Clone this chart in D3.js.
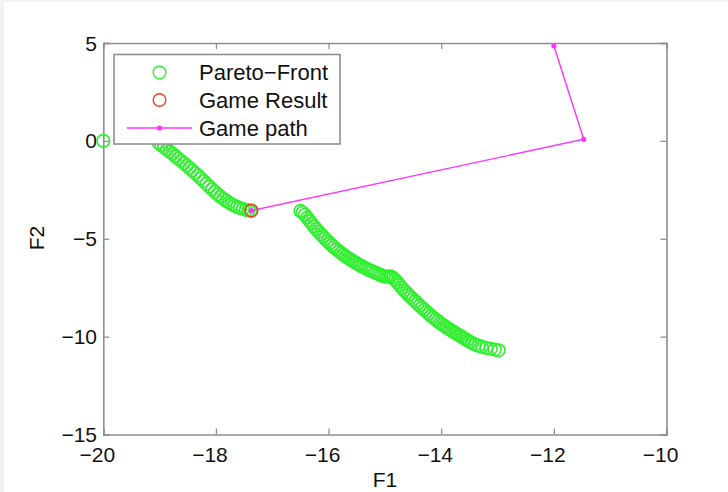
<!DOCTYPE html>
<html>
<head>
<meta charset="utf-8">
<script src="https://cdn.jsdelivr.net/npm/d3@7"></script>
<style>
  html, body { margin: 0; padding: 0; background: #f3f3f3; }
  svg { display: block; }
  text { font-family: "Liberation Sans", Arial, sans-serif; fill: #111; }
</style>
</head>
<body>
<svg id="chart" width="728" height="492"></svg>
<script>
// ---- data ----
const xTicks = [-20, -18, -16, -14, -12, -10];
const yTicks = [5, 0, -5, -10, -15];

const paretoF1 = [
  -20.00,
  -19.02, -18.97, -18.92, -18.87, -18.82, -18.77, -18.72, -18.67, -18.62, -18.57,
  -18.52, -18.47, -18.42, -18.37, -18.32, -18.27, -18.22, -18.17, -18.12, -18.07,
  -18.02, -17.97, -17.92, -17.87, -17.82, -17.77, -17.72, -17.67, -17.62, -17.57,
  -17.52, -17.47, -17.42, -17.38,
  -16.50, -16.46, -16.42, -16.38, -16.34, -16.30, -16.26, -16.22, -16.18, -16.14,
  -16.10, -16.06, -16.02, -15.98, -15.94, -15.90, -15.86, -15.82, -15.78, -15.74,
  -15.70, -15.66, -15.62, -15.58, -15.54, -15.50, -15.46, -15.42, -15.38, -15.34,
  -15.30, -15.26, -15.22, -15.18, -15.14, -15.10, -15.06, -15.02, -14.98, -14.94,
  -14.90, -14.86, -14.82, -14.78, -14.74, -14.70, -14.66, -14.62, -14.58, -14.54,
  -14.50, -14.46, -14.42, -14.38, -14.34, -14.30, -14.26, -14.22, -14.18, -14.14,
  -14.10, -14.06, -14.02, -13.98, -13.94, -13.90, -13.86, -13.82, -13.78, -13.74,
  -13.70, -13.66, -13.62, -13.58, -13.54, -13.50, -13.45, -13.40, -13.34, -13.28,
  -13.20, -13.12, -13.05, -12.98
];
const paretoF2 = [
  0.00,
  -0.10, -0.22, -0.33, -0.44, -0.55, -0.66, -0.78, -0.90, -1.02, -1.14,
  -1.26, -1.38, -1.51, -1.64, -1.77, -1.91, -2.05, -2.19, -2.33, -2.47,
  -2.60, -2.73, -2.85, -2.96, -3.06, -3.15, -3.24, -3.31, -3.38, -3.43,
  -3.48, -3.52, -3.55, -3.57,
  -3.58, -3.66, -3.78, -3.92, -4.08, -4.22, -4.36, -4.50, -4.63, -4.76,
  -4.88, -5.00, -5.12, -5.23, -5.34, -5.44, -5.54, -5.63, -5.72, -5.81,
  -5.89, -5.97, -6.05, -6.12, -6.19, -6.26, -6.33, -6.39, -6.45, -6.51,
  -6.57, -6.62, -6.67, -6.72, -6.77, -6.82, -6.87, -6.91, -6.94, -6.93,
  -6.92, -6.99, -7.10, -7.22, -7.36, -7.50, -7.63, -7.75, -7.87, -7.98,
  -8.09, -8.20, -8.31, -8.42, -8.53, -8.63, -8.73, -8.83, -8.93, -9.03,
  -9.12, -9.21, -9.30, -9.38, -9.46, -9.54, -9.61, -9.69, -9.76, -9.83,
  -9.90, -9.97, -10.04, -10.11, -10.18, -10.25, -10.33, -10.40, -10.46, -10.52,
  -10.57, -10.62, -10.66, -10.70
];

const gameResultF1 = [-17.37];
const gameResultF2 = [-3.56];

const pathF1 = [-12.00, -11.47, -17.37];
const pathF2 = [4.86, 0.08, -3.56];

const legendLabels = ["Pareto\u2212Front", "Game Result", "Game path"];
const xLabel = "F1";
const yLabel = "F2";

// ---- layout ----
const svg = d3.select("#chart");
svg.append("rect").attr("x", 4).attr("y", 2).attr("width", 724).attr("height", 490).attr("fill", "#fff");

const L = 103.3, R = 666.5, T = 43, B = 434.5;
const x = d3.scaleLinear().domain([-20, -10]).range([L, R]);
const y = d3.scaleLinear().domain([-15, 5]).range([B, T]);

const axisColor = "#8f8f8f";
const green = "#2ef02e", red = "#f0402a", magenta = "#ff33ff";

// axes box with inward ticks on all sides
const g = svg.append("g");
const tickLen = 6;
const bottomAxis = d3.axisBottom(x).tickValues(xTicks).tickSize(-tickLen).tickFormat("");
const topAxis = d3.axisTop(x).tickValues(xTicks).tickSize(-tickLen).tickFormat("");
const leftAxis = d3.axisLeft(y).tickValues(yTicks).tickSize(-tickLen).tickFormat("");
const rightAxis = d3.axisRight(y).tickValues(yTicks).tickSize(-tickLen).tickFormat("");
[[bottomAxis, `translate(0,${B})`], [topAxis, `translate(0,${T})`],
 [leftAxis, `translate(${L},0)`], [rightAxis, `translate(${R},0)`]].forEach(([ax, tr]) => {
  const a = g.append("g").attr("transform", tr).call(ax);
  a.select(".domain").attr("stroke", axisColor).attr("stroke-width", 1.6);
  a.selectAll(".tick line").attr("stroke", axisColor).attr("stroke-width", 1.3);
});

// tick labels
const fmt = v => (v < 0 ? "\u2212" + Math.abs(v) : String(v));
svg.append("g").selectAll("text").data(xTicks).join("text")
  .attr("x", d => x(d) - 6).attr("y", 462)
  .attr("text-anchor", "middle").attr("font-size", 21)
  .text(fmt);
svg.append("g").selectAll("text").data(yTicks).join("text")
  .attr("x", 97).attr("y", d => y(d) + 7.5)
  .attr("text-anchor", "end").attr("font-size", 21)
  .text(fmt);

// axis labels
svg.append("text").attr("x", 385).attr("y", 487).attr("text-anchor", "middle")
  .attr("font-size", 21).text(xLabel);
svg.append("text").attr("transform", "translate(44,238) rotate(-90)")
  .attr("text-anchor", "middle").attr("font-size", 21).text(yLabel);

// pareto front
const pareto = paretoF1.map((v, i) => [v, paretoF2[i]]);
svg.append("g").selectAll("circle").data(pareto).join("circle")
  .attr("cx", d => x(d[0])).attr("cy", d => y(d[1])).attr("r", 6.3)
  .attr("fill", "none").attr("stroke", green).attr("stroke-width", 1.6);

// game path
const path = pathF1.map((v, i) => [v, pathF2[i]]);
svg.append("path").datum(path)
  .attr("d", d3.line().x(d => x(d[0])).y(d => y(d[1])))
  .attr("fill", "none").attr("stroke", magenta).attr("stroke-width", 1.4);
svg.append("g").selectAll("circle").data(path).join("circle")
  .attr("cx", d => x(d[0])).attr("cy", d => y(d[1])).attr("r", 2.6).attr("fill", magenta);

// game result
svg.append("g").selectAll("circle").data(gameResultF1.map((v, i) => [v, gameResultF2[i]])).join("circle")
  .attr("cx", d => x(d[0])).attr("cy", d => y(d[1])).attr("r", 6.3)
  .attr("fill", "none").attr("stroke", red).attr("stroke-width", 1.6);

// legend
const lg = svg.append("g");
lg.append("rect").attr("x", 114).attr("y", 54.5).attr("width", 226).attr("height", 89.5)
  .attr("fill", "#fff").attr("stroke", axisColor).attr("stroke-width", 1.6);
const rowY = [72.5, 100, 128];
lg.append("circle").attr("cx", 159.5).attr("cy", rowY[0]).attr("r", 6.3)
  .attr("fill", "none").attr("stroke", green).attr("stroke-width", 1.4);
lg.append("circle").attr("cx", 159.5).attr("cy", rowY[1]).attr("r", 6.3)
  .attr("fill", "none").attr("stroke", red).attr("stroke-width", 1.4);
lg.append("line").attr("x1", 127).attr("x2", 192).attr("y1", rowY[2]).attr("y2", rowY[2])
  .attr("stroke", magenta).attr("stroke-width", 1.4);
lg.append("circle").attr("cx", 159.5).attr("cy", rowY[2]).attr("r", 2.6).attr("fill", magenta);
lg.selectAll("text.lab").data(legendLabels).join("text").attr("class", "lab")
  .attr("x", 199).attr("y", (d, i) => rowY[i] + 7.8).attr("font-size", 22).text(d => d);
</script>
</body>
</html>
